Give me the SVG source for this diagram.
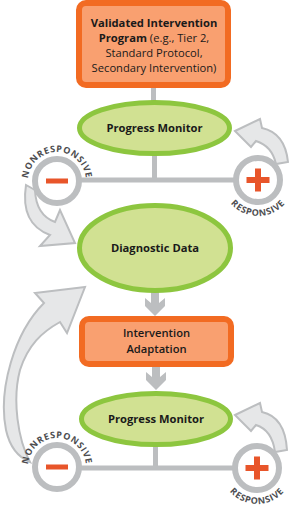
<svg xmlns="http://www.w3.org/2000/svg" width="291" height="513" viewBox="0 0 291 513">
<defs>
<style>
.box{fill:#F9A070;stroke:#F26B22;stroke-width:6}
.ell{fill:#D1E192;stroke:#8DC63F;stroke-width:5}
.ln{stroke:#BCBEC0;stroke-width:5;fill:none}
.ring{fill:#FFFFFF;stroke:#BCBEC0;stroke-width:6}
.arw{fill:#E6E7E8;stroke:#BCBEC0;stroke-width:2;stroke-linejoin:miter}
.dn{fill:#BCBEC0}
.sign{fill:#E8552A}
.t{font-family:"Open Sans","Liberation Sans",sans-serif;font-size:11.2px;fill:#1A1A1A;text-anchor:middle}
.b{font-weight:bold}
.arc{font-family:"Open Sans","Liberation Sans",sans-serif;font-size:9px;font-weight:bold;fill:#4D4D4F;letter-spacing:0.7px}
</style>
<path id="arcN1" d="M 28,181 A 29,29 0 0 1 86,181"/>
<path id="arcR1" d="M 222,180 A 36,36 0 0 0 294,180"/>
<path id="arcN2" d="M 28,467 A 29,29 0 0 1 86,467"/>
<path id="arcR2" d="M 221,468 A 36,36 0 0 0 293,468"/>
</defs>
<rect width="291" height="513" fill="#FFFFFF"/>

<g id="connectors">
<line class="ln" x1="153.5" y1="86" x2="153.5" y2="102"/>
<line class="ln" x1="154.5" y1="154" x2="154.5" y2="180"/>
<line class="ln" x1="80" y1="180" x2="236" y2="180"/>
<line class="ln" x1="155.5" y1="445" x2="155.5" y2="468"/>
<line class="ln" x1="80" y1="468" x2="235" y2="468"/>
<polygon class="dn" points="151,292 159,292 159,303 165,298 165,306 155,316 145,306 145,298 151,303"/>
<polygon class="dn" points="152,366 160,366 160,377 166,372 166,380 156,390 146,380 146,372 152,377"/>
<path class="arw" d="M 235,131 L 260,119 L 262,128 Q 285,133 288,162 L 276,164 Q 272,146 256,141 L 251,147 Z"/>
<path class="arw" d="M 235,415 L 260,403 L 262,412 Q 285,417 287,450 L 275,452 Q 272,430 256,425 L 251,431 Z"/>
<path class="arw" d="M 26,185 Q 20,224 50,235 L 40,246 L 75,243 L 60,210 L 55,222 Q 36,215 35,190 Z"/>
<path class="arw" d="M 85,287 L 35,293 L 44,303 C 14,333 -2,390 6,430 C 10,448 20,458 30,462 C 18,440 12,400 20,370 C 28,345 42,332 60,322 L 67,333 Z"/>
</g>

<g id="program">
<rect class="box" x="79" y="3" width="149" height="82" rx="7"/>
<text class="t" x="154" y="27"><tspan class="b">Validated Intervention</tspan></text>
<text class="t" x="154" y="42"><tspan class="b">Program</tspan> (e.g., Tier 2,</text>
<text class="t" x="154" y="57">Standard Protocol,</text>
<text class="t" x="154" y="72">Secondary Intervention)</text>
</g>

<g id="monitor1">
<ellipse class="ell" cx="154.5" cy="128" rx="75" ry="25.5"/>
<text class="t b" x="154.5" y="132">Progress Monitor</text>
</g>

<g id="minus1">
<circle class="ring" cx="57" cy="181" r="22"/>
<rect class="sign" x="46" y="178.5" width="22" height="5"/>
<text class="arc"><textPath href="#arcN1" startOffset="50%" text-anchor="middle">NONRESPONSIVE</textPath></text>
</g>

<g id="plus1">
<circle class="ring" cx="258" cy="180" r="22"/>
<rect class="sign" x="255" y="168.5" width="6" height="23"/>
<rect class="sign" x="246.5" y="177" width="23" height="6"/>
<text class="arc"><textPath href="#arcR1" startOffset="50%" text-anchor="middle">RESPONSIVE</textPath></text>
</g>

<g id="diagnostic">
<ellipse class="ell" cx="155" cy="248" rx="75.5" ry="42.5"/>
<text class="t b" x="155" y="252">Diagnostic Data</text>
</g>

<g id="adaptation">
<rect class="box" x="82" y="319" width="149" height="45" rx="7"/>
<text class="t" x="156.5" y="337" font-weight="600">Intervention</text>
<text class="t" x="156.5" y="353" font-weight="600">Adaptation</text>
</g>

<g id="monitor2">
<ellipse class="ell" cx="156" cy="419" rx="74.5" ry="25.5"/>
<text class="t b" x="156" y="423">Progress Monitor</text>
</g>

<g id="minus2">
<circle class="ring" cx="57" cy="467" r="22"/>
<rect class="sign" x="46" y="464.5" width="22" height="5"/>
<text class="arc"><textPath href="#arcN2" startOffset="50%" text-anchor="middle">NONRESPONSIVE</textPath></text>
</g>

<g id="plus2">
<circle class="ring" cx="257" cy="468" r="22"/>
<rect class="sign" x="254" y="456.5" width="6" height="23"/>
<rect class="sign" x="245.5" y="465" width="23" height="6"/>
<text class="arc"><textPath href="#arcR2" startOffset="50%" text-anchor="middle">RESPONSIVE</textPath></text>
</g>
</svg>
